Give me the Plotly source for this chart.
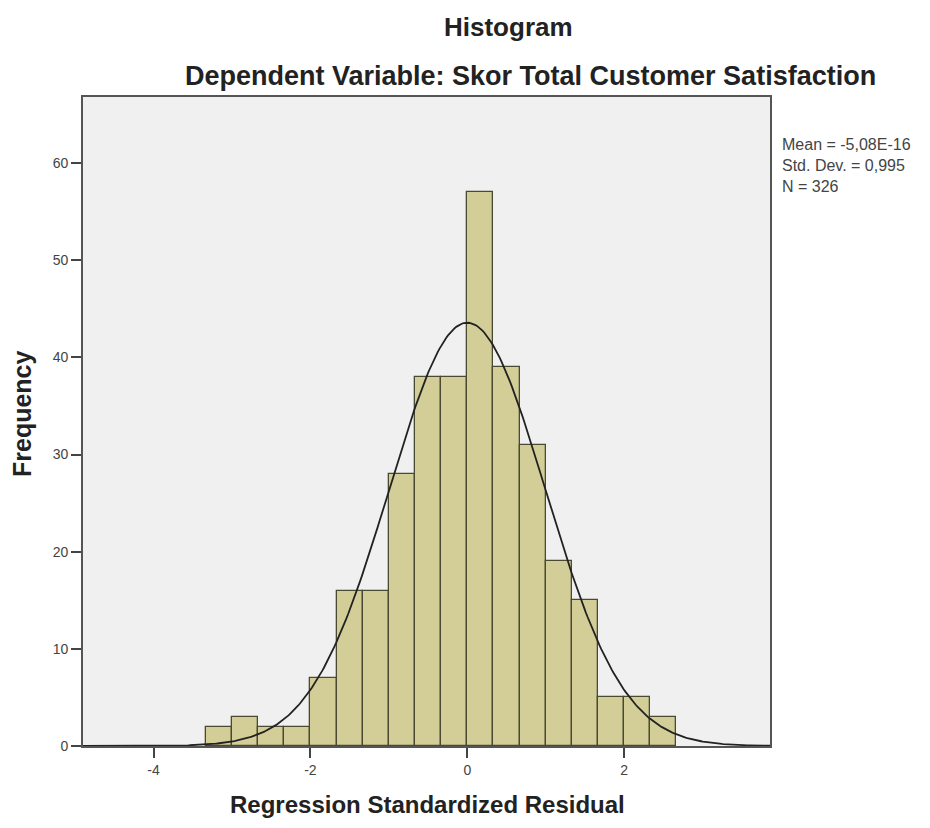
import numpy as np
import plotly.graph_objects as go

# Data
counts = [2, 3, 2, 2, 7, 16, 16, 28, 38, 38, 57, 39, 31, 19, 15, 5, 5, 3]
bin_first_edge = -10 / 3
bin_width = 1 / 3
mean_val = -5.08e-16
std_val = 0.995
n_val = 326
x_ticks = [-4, -2, 0, 2]
y_ticks = [0, 10, 20, 30, 40, 50, 60]

centers = [bin_first_edge + bin_width * (i + 0.5) for i in range(len(counts))]

x_range = [-4.9, 3.86]
y_range = [0, 66.8]

xc = np.linspace(x_range[0], x_range[1], 400)
yc = n_val * bin_width / (std_val * np.sqrt(2 * np.pi)) * np.exp(-0.5 * ((xc - mean_val) / std_val) ** 2)

fig = go.Figure()
fig.add_trace(go.Bar(
    x=centers, y=counts, width=bin_width,
    marker=dict(color="#D3CE97", line=dict(color="#4A4A32", width=1.3)),
    hoverinfo="x+y",
))
fig.add_trace(go.Scatter(
    x=xc, y=yc, mode="lines",
    line=dict(color="#222222", width=1.8),
    hoverinfo="skip",
))

font_main = "Liberation Sans, Arial, sans-serif"

# screen geometry of plot area (page has 8px body margin)
PL, PR, PT, PB = 83, 770, 97, 746
W, H = 914, 812


def px(x):
    return (x - PL) / (PR - PL)


def py(y):
    return (PB - y) / (PB - PT)


fig.update_layout(
    width=W, height=H,
    margin=dict(l=PL - 8, r=W + 8 - PR, t=PT - 8, b=H + 8 - PB),
    paper_bgcolor="white",
    plot_bgcolor="#F0F0F0",
    showlegend=False,
    bargap=0,
    font=dict(family=font_main, color="#333333"),
    xaxis=dict(
        range=x_range, tickvals=x_ticks, ticktext=[str(t) for t in x_ticks],
        showgrid=False, zeroline=False,
        showline=True, linecolor="#555555", linewidth=1.6, mirror=True,
        ticks="outside", ticklen=10, tickwidth=1.5, tickcolor="#444444",
        tickfont=dict(size=14, color="#444444"),
    ),
    yaxis=dict(
        range=y_range, tickvals=y_ticks, ticktext=[str(t) for t in y_ticks],
        showgrid=False, zeroline=False,
        showline=True, linecolor="#555555", linewidth=1.6, mirror=True,
        ticks="outside", ticklen=10, tickwidth=1.5, tickcolor="#444444",
        tickfont=dict(size=14, color="#444444"),
    ),
)

fig.add_annotation(
    text="<b>Histogram</b>", xref="paper", yref="paper",
    x=px(508), y=py(27),
    xanchor="center", yanchor="middle", showarrow=False,
    font=dict(size=26, color="#222222", family=font_main),
)
fig.add_annotation(
    text="<b>Dependent Variable: Skor Total Customer Satisfaction</b>",
    xref="paper", yref="paper",
    x=px(530), y=py(76),
    xanchor="center", yanchor="middle", showarrow=False,
    font=dict(size=27, color="#222222", family=font_main),
)
fig.add_annotation(
    text="<b>Regression Standardized Residual</b>",
    xref="paper", yref="paper",
    x=px(428), y=py(820),
    xanchor="center", yanchor="bottom", showarrow=False,
    font=dict(size=24, color="#222222", family=font_main),
)
fig.add_annotation(
    text="<b>Frequency</b>",
    xref="paper", yref="paper",
    x=px(22), y=py(414), textangle=-90,
    xanchor="center", yanchor="middle", showarrow=False,
    font=dict(size=25, color="#222222", family=font_main),
)
fig.add_annotation(
    text=f"Mean = -5,08E-16<br>Std. Dev. = 0,995<br>N = {n_val}",
    xref="paper", yref="paper",
    x=px(780), y=py(134),
    xanchor="left", yanchor="top", align="left", showarrow=False,
    font=dict(size=16, color="#444444", family=font_main),
)

fig.write_html("out.html")
